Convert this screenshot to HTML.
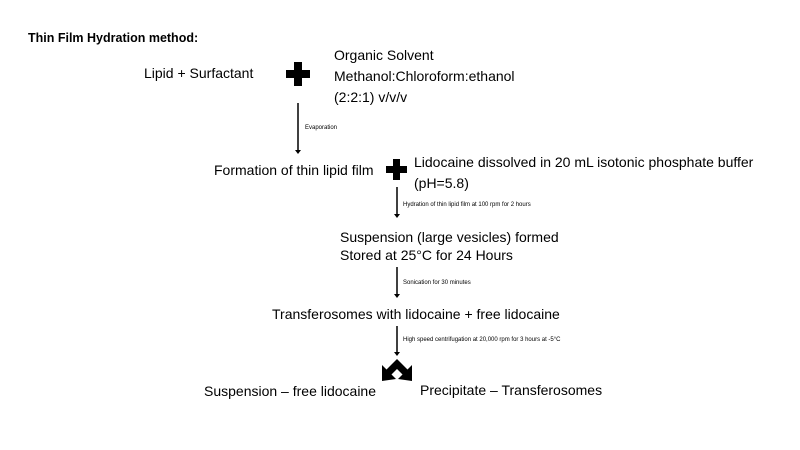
<!DOCTYPE html>
<html><head><style>
body{margin:0;width:800px;height:450px;background:#fff;position:relative;font-family:"Liberation Sans",sans-serif;color:#000;overflow:hidden}
.t{position:absolute;white-space:nowrap;font-size:14px;line-height:21px}
.s{position:absolute;white-space:nowrap;font-size:6px}
</style></head><body>
<div class="t" style="left:28px;top:28px;font-size:12.5px;font-weight:bold">Thin Film Hydration method:</div>
<div class="t" style="left:144px;top:63px">Lipid + Surfactant</div>
<div class="t" style="left:334px;top:45px">Organic Solvent<br>Methanol:Chloroform:ethanol<br>(2:2:1) v/v/v</div>
<div class="t" style="left:214px;top:160px">Formation of thin lipid film</div>
<div class="t" style="left:414px;top:152px">Lidocaine dissolved in 20 mL isotonic phosphate buffer<br>(pH=5.8)</div>
<div class="t" style="left:340px;top:228px;line-height:18px">Suspension (large vesicles) formed<br>Stored at 25°C for 24 Hours</div>
<div class="t" style="left:272px;top:304px">Transferosomes with lidocaine + free lidocaine</div>
<div class="t" style="left:204px;top:381px">Suspension – free lidocaine</div>
<div class="t" style="left:420px;top:380px">Precipitate – Transferosomes</div>
<div class="s" style="left:305px;top:125px">Evaporation</div>
<div class="s" style="left:403px;top:202px">Hydration of thin lipid film at 100 rpm for 2 hours</div>
<div class="s" style="left:403px;top:280px">Sonication for 30 minutes</div>
<div class="s" style="left:403px;top:337px">High speed centrifugation at 20,000 rpm for 3 hours at -5°C</div>
<svg width="800" height="450" style="position:absolute;left:0;top:0">
<path d="M294 62h8v8h8v8h-8v8h-8v-8h-8v-8h8z"/>
<path d="M393 159h7v7h7v7h-7v7h-7v-7h-7v-7h7z"/>
<g stroke="#000" stroke-width="1.5">
<line x1="298" y1="103" x2="298" y2="151"/>
<line x1="397" y1="187" x2="397" y2="215"/>
<line x1="397" y1="267" x2="397" y2="295"/>
<line x1="397" y1="326" x2="397" y2="353"/>
</g>
<path d="M295 150h6l-3 4z"/>
<path d="M394 214h6l-3 4z"/>
<path d="M394 294h6l-3 4z"/>
<path d="M394 352h6l-3 4z"/>
<polyline points="388,373 397,364 406,373" fill="none" stroke="#000" stroke-width="7"/>
<polygon points="382,365 396,379 382,381"/>
<polygon points="412,365 398,379 412,381"/>
</svg>
</body></html>
